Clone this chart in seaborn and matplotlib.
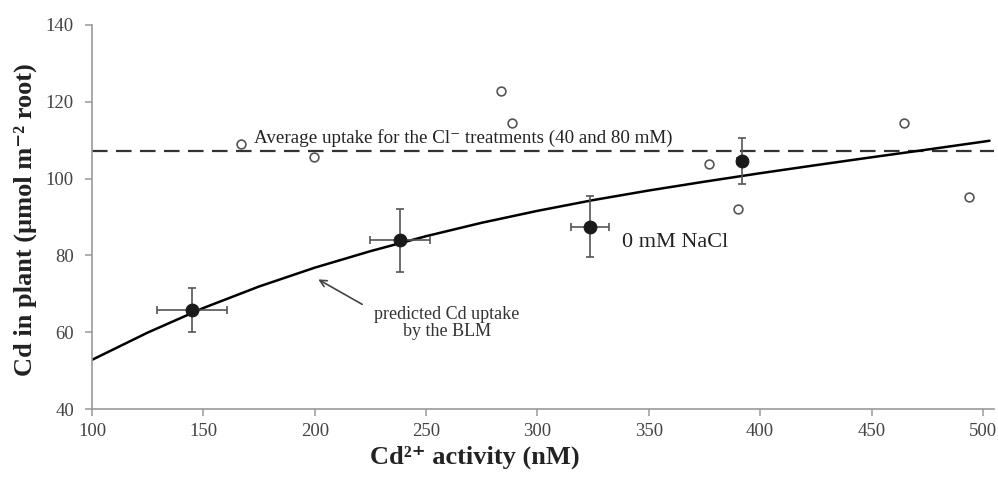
import numpy as np
import pandas as pd
import seaborn as sns
import matplotlib.pyplot as plt

# curve (BLM prediction)
curva_x = [100, 125, 150, 175, 200, 225, 250, 275, 300, 325, 350, 375, 400, 425, 450, 475, 503]
curva_y = [52.8, 59.9, 66.3, 71.9, 76.8, 81.1, 85.0, 88.5, 91.6, 94.4, 96.9, 99.2, 101.4, 103.5, 105.55, 107.55, 109.85]

# Cl- treatments (open circles)
cl_x = [166.9, 199.7, 283.7, 288.5, 377.2, 390.2, 464.5, 493.8]
cl_y = [109.0, 105.7, 122.7, 114.5, 103.8, 92.1, 114.5, 95.1]
cl_promedio = 107.3

# 0 mM NaCl (filled, with error bars)
nacl_x = [145.0, 238.2, 323.5, 391.8]
nacl_y = [65.8, 84.0, 87.5, 104.5]
nacl_xerr = [15.8, 13.5, 8.5, 2.0]
nacl_yerr = [5.8, 8.2, 8.0, 6.0]

df_curva = pd.DataFrame({"x": curva_x, "y": curva_y})
df_cl = pd.DataFrame({"x": cl_x, "y": cl_y})
df_nacl = pd.DataFrame({"x": nacl_x, "y": nacl_y})

sns.set_theme(style="white")
plt.rcParams['font.family'] = ['Liberation Serif', 'DejaVu Serif']

fig = plt.figure(figsize=(9.98, 4.8), dpi=100)
ax = fig.add_axes([92 / 998, 1 - 409 / 480, 902 / 998, 384 / 480])

# linea promedio
ax.axhline(cl_promedio, color="#333333", lw=1.6, linestyle=(0, (7, 3.8)), zorder=1)

sns.lineplot(data=df_curva, x="x", y="y", color="black", lw=1.8, ax=ax, zorder=2)

ax.errorbar(nacl_x, nacl_y, xerr=nacl_xerr, yerr=nacl_yerr, fmt="none",
            ecolor="#555555", elinewidth=1.2, capsize=3, capthick=1.2, zorder=3)
sns.scatterplot(data=df_nacl, x="x", y="y", color="#1a1a1a", s=85,
                edgecolor="#1a1a1a", ax=ax, zorder=4)
sns.scatterplot(data=df_cl, x="x", y="y", color="white", s=40,
                edgecolor="#555555", linewidth=1.2, ax=ax, zorder=4)

ax.set_xlim(100, 505)
ax.set_ylim(40, 140)
ax.set_xticks(np.arange(100, 501, 50))
ax.set_yticks(np.arange(40, 141, 20))

sns.despine(ax=ax)
for s in ["left", "bottom"]:
    ax.spines[s].set_color("#999999")
    ax.spines[s].set_linewidth(1.2)
ax.tick_params(axis="both", direction="out", length=5, width=1.1, color="#999999",
               labelsize=13.5, labelcolor="#444444", bottom=True, left=True)
ax.tick_params(axis="y", pad=8)
ax.tick_params(axis="x", pad=5)

ax.set_xlabel("Cd²⁺ activity (nM)", fontsize=19, weight="bold", color="#222222")
ax.set_ylabel("Cd in plant (µmol m⁻² root)", fontsize=19, weight="bold", color="#222222")
ax.xaxis.set_label_coords(0.424, -0.095)
ax.yaxis.set_label_coords(-0.061, 0.493)

# textos
ax.text(172.8, 109.2, "Average uptake for the Cl⁻ treatments (40 and 80 mM)",
        fontsize=13.7, color="#222222", va="baseline", ha="left")
ax.text(338.1, 83.3, "0 mM NaCl", fontsize=16, color="#222222", va="center", ha="left")
ax.text(259.3, 62.4, "predicted Cd uptake\nby the BLM", fontsize=13, color="#333333",
        va="center", ha="center", linespacing=1.0)
ax.annotate("", xy=(200.5, 74.1), xytext=(222.4, 66.9),
            arrowprops=dict(arrowstyle="->", color="#444444", lw=1.2))

fig.savefig("out.png", dpi=100)
